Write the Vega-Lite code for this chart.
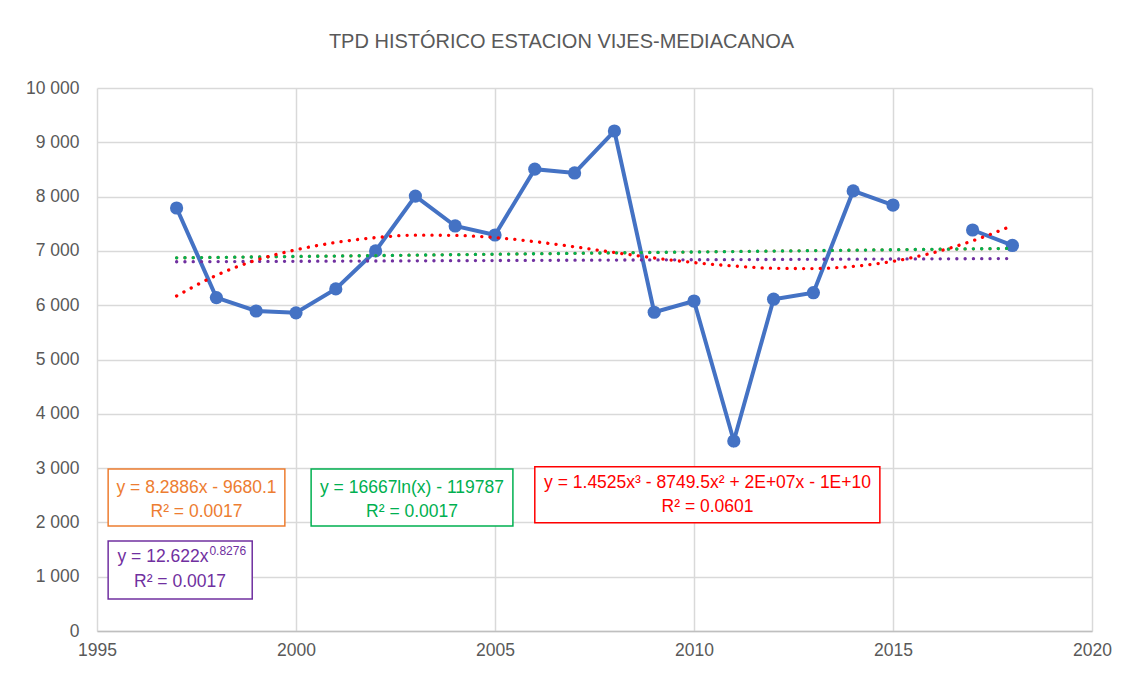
{
  "$schema": "https://vega.github.io/schema/vega-lite/v6.json",
  "autosize": "none",
  "width": 995,
  "height": 543,
  "padding": {"left": 97, "top": 88, "right": 47, "bottom": 52},
  "background": "white",
  "title": {
    "text": "TPD HISTÓRICO ESTACION VIJES-MEDIACANOA",
    "font": "Liberation Sans",
    "fontSize": 20,
    "fontWeight": "normal",
    "color": "#595959",
    "anchor": "middle",
    "dx": -33,
    "offset": 27
  },
  "config": {
    "view": {"stroke": null},
    "text": {"font": "Liberation Sans"},
    "axis": {
      "labelFont": "Liberation Sans",
      "labelFontSize": 17.5,
      "labelColor": "#595959",
      "gridColor": "#d9d9d9",
      "gridWidth": 1.5,
      "ticks": false,
      "title": null
    }
  },
  "datasets": {
    "obs": [
      {"year": 1997, "tpd": 7790},
      {"year": 1998, "tpd": 6140},
      {"year": 1999, "tpd": 5893},
      {"year": 2000, "tpd": 5860},
      {"year": 2001, "tpd": 6300},
      {"year": 2002, "tpd": 7000},
      {"year": 2003, "tpd": 8010},
      {"year": 2004, "tpd": 7459},
      {"year": 2005, "tpd": 7293},
      {"year": 2006, "tpd": 8505},
      {"year": 2007, "tpd": 8435},
      {"year": 2008, "tpd": 9208},
      {"year": 2009, "tpd": 5870},
      {"year": 2010, "tpd": 6077},
      {"year": 2011, "tpd": 3499},
      {"year": 2012, "tpd": 6110},
      {"year": 2013, "tpd": 6230},
      {"year": 2014, "tpd": 8105},
      {"year": 2015, "tpd": 7845},
      {"year": 2016, "tpd": null},
      {"year": 2017, "tpd": 7385},
      {"year": 2018, "tpd": 7100}
    ],
    "trend": [
      {"fit": "lineal", "year": 1997, "value": 6872},
      {"fit": "lineal", "year": 2018, "value": 7046},
      {"fit": "potencial", "year": 1997, "value": 6800},
      {"fit": "potencial", "year": 2007.5, "value": 6830},
      {"fit": "potencial", "year": 2018, "value": 6859},
      {"fit": "logaritmica", "year": 1997, "value": 6872},
      {"fit": "logaritmica", "year": 2007.5, "value": 6960},
      {"fit": "logaritmica", "year": 2018, "value": 7046},
      {"fit": "polinomica", "year": 1997, "value": 6170},
      {"fit": "polinomica", "year": 1998, "value": 6550},
      {"fit": "polinomica", "year": 1999, "value": 6830},
      {"fit": "polinomica", "year": 2000, "value": 7020},
      {"fit": "polinomica", "year": 2001, "value": 7155},
      {"fit": "polinomica", "year": 2002, "value": 7245},
      {"fit": "polinomica", "year": 2003, "value": 7290},
      {"fit": "polinomica", "year": 2004, "value": 7285},
      {"fit": "polinomica", "year": 2005, "value": 7245},
      {"fit": "polinomica", "year": 2006, "value": 7170},
      {"fit": "polinomica", "year": 2007, "value": 7075},
      {"fit": "polinomica", "year": 2008, "value": 6970},
      {"fit": "polinomica", "year": 2009, "value": 6870},
      {"fit": "polinomica", "year": 2010, "value": 6785},
      {"fit": "polinomica", "year": 2011, "value": 6722},
      {"fit": "polinomica", "year": 2012, "value": 6680},
      {"fit": "polinomica", "year": 2013, "value": 6675},
      {"fit": "polinomica", "year": 2014, "value": 6715},
      {"fit": "polinomica", "year": 2015, "value": 6808},
      {"fit": "polinomica", "year": 2016, "value": 6965},
      {"fit": "polinomica", "year": 2017, "value": 7185},
      {"fit": "polinomica", "year": 2018, "value": 7465}
    ],
    "boxes": [
      {"fit": "lineal", "x1": 1995.28, "x2": 1999.72, "y1": 2983, "y2": 1934},
      {"fit": "logaritmica", "x1": 2000.38, "x2": 2005.45, "y1": 2983, "y2": 1934},
      {"fit": "polinomica", "x1": 2006.0, "x2": 2014.67, "y1": 3026, "y2": 1994},
      {"fit": "potencial", "x1": 1995.28, "x2": 1998.90, "y1": 1657, "y2": 589}
    ],
    "labels": [
      {"fit": "lineal", "x": 1997.5, "y": 2634, "text": "y = 8.2886x - 9680.1"},
      {"fit": "lineal", "x": 1997.5, "y": 2192, "text": "R² = 0.0017"},
      {"fit": "logaritmica", "x": 2002.915, "y": 2634, "text": "y = 16667ln(x) - 119787"},
      {"fit": "logaritmica", "x": 2002.915, "y": 2192, "text": "R² = 0.0017"},
      {"fit": "polinomica", "x": 2010.34, "y": 2720, "text": "y = 1.4525x³ - 8749.5x² + 2E+07x - 1E+10"},
      {"fit": "polinomica", "x": 2010.34, "y": 2275, "text": "R² = 0.0601"},
      {"fit": "potencial", "x": 1997.085, "y": 902, "text": "R² = 0.0017"}
    ],
    "powlabel": [
      {"fit": "potencial", "x": 1997.80, "y": 1354, "text": "y = 12.622x", "sup": "0.8276"}
    ]
  },
  "layer": [
    {
      "data": {"name": "obs"},
      "mark": {"type": "line", "color": "#4472C4", "strokeWidth": 4},
      "encoding": {
        "x": {
          "field": "year", "type": "quantitative",
          "scale": {"domain": [1995, 2020], "nice": false, "zero": false},
          "axis": {
            "values": [1995, 2000, 2005, 2010, 2015, 2020],
            "format": "d",
            "labelPadding": 10,
            "domainColor": "#bfbfbf",
            "domainWidth": 1.5,
            "labelFlush": false
          }
        },
        "y": {
          "field": "tpd", "type": "quantitative",
          "scale": {"domain": [0, 10000], "nice": false},
          "axis": {
            "values": [0, 1000, 2000, 3000, 4000, 5000, 6000, 7000, 8000, 9000, 10000],
            "labelExpr": "replace(format(datum.value, ','), ',', ' ')",
            "domain": false,
            "labelPadding": 18
          }
        }
      }
    },
    {
      "data": {"name": "obs"},
      "mark": {"type": "point", "filled": true, "color": "#4472C4", "size": 175, "opacity": 1, "shape": "circle"},
      "encoding": {
        "x": {"field": "year", "type": "quantitative"},
        "y": {"field": "tpd", "type": "quantitative"}
      }
    },
    {
      "data": {"name": "trend"},
      "transform": [{"filter": "datum.fit == 'lineal'"}],
      "mark": {"type": "line", "color": "#ED7D31", "strokeWidth": 3.3, "strokeCap": "round", "strokeDash": [0.1, 8.2]},
      "encoding": {
        "x": {"field": "year", "type": "quantitative"},
        "y": {"field": "value", "type": "quantitative"}
      }
    },
    {
      "data": {"name": "trend"},
      "transform": [{"filter": "datum.fit == 'potencial'"}],
      "mark": {"type": "line", "color": "#7030A0", "strokeWidth": 3.3, "strokeCap": "round", "strokeDash": [0.1, 8.2]},
      "encoding": {
        "x": {"field": "year", "type": "quantitative"},
        "y": {"field": "value", "type": "quantitative"}
      }
    },
    {
      "data": {"name": "trend"},
      "transform": [{"filter": "datum.fit == 'logaritmica'"}],
      "mark": {"type": "line", "color": "#00B050", "strokeWidth": 3.3, "strokeCap": "round", "strokeDash": [0.1, 8.2]},
      "encoding": {
        "x": {"field": "year", "type": "quantitative"},
        "y": {"field": "value", "type": "quantitative"}
      }
    },
    {
      "data": {"name": "trend"},
      "transform": [{"filter": "datum.fit == 'polinomica'"}],
      "mark": {"type": "line", "color": "#FF0000", "strokeWidth": 3.3, "strokeCap": "round", "strokeDash": [0.1, 8.2], "interpolate": "monotone"},
      "encoding": {
        "x": {"field": "year", "type": "quantitative"},
        "y": {"field": "value", "type": "quantitative"}
      }
    },
    {
      "data": {"name": "boxes"},
      "mark": {"type": "rect", "fill": "white", "strokeWidth": 1.5},
      "encoding": {
        "x": {"field": "x1", "type": "quantitative"},
        "x2": {"field": "x2"},
        "y": {"field": "y1", "type": "quantitative"},
        "y2": {"field": "y2"},
        "stroke": {
          "field": "fit", "type": "nominal", "legend": null,
          "scale": {"domain": ["lineal", "logaritmica", "polinomica", "potencial"], "range": ["#ED7D31", "#00B050", "#FF0000", "#7030A0"]}
        }
      }
    },
    {
      "data": {"name": "labels"},
      "mark": {"type": "text", "baseline": "middle", "align": "center", "fontSize": 17.5},
      "encoding": {
        "x": {"field": "x", "type": "quantitative"},
        "y": {"field": "y", "type": "quantitative"},
        "text": {"field": "text"},
        "color": {
          "field": "fit", "type": "nominal", "legend": null,
          "scale": {"domain": ["lineal", "logaritmica", "polinomica", "potencial"], "range": ["#ED7D31", "#00B050", "#FF0000", "#7030A0"]}
        }
      }
    },
    {
      "data": {"name": "powlabel"},
      "mark": {"type": "text", "baseline": "middle", "align": "right", "fontSize": 17.5, "color": "#7030A0"},
      "encoding": {
        "x": {"field": "x", "type": "quantitative"},
        "y": {"field": "y", "type": "quantitative"},
        "text": {"field": "text"}
      }
    },
    {
      "data": {"name": "powlabel"},
      "mark": {"type": "text", "baseline": "middle", "align": "left", "fontSize": 12, "color": "#7030A0", "dx": 1, "dy": -6},
      "encoding": {
        "x": {"field": "x", "type": "quantitative"},
        "y": {"field": "y", "type": "quantitative"},
        "text": {"field": "sup"}
      }
    }
  ]
}
